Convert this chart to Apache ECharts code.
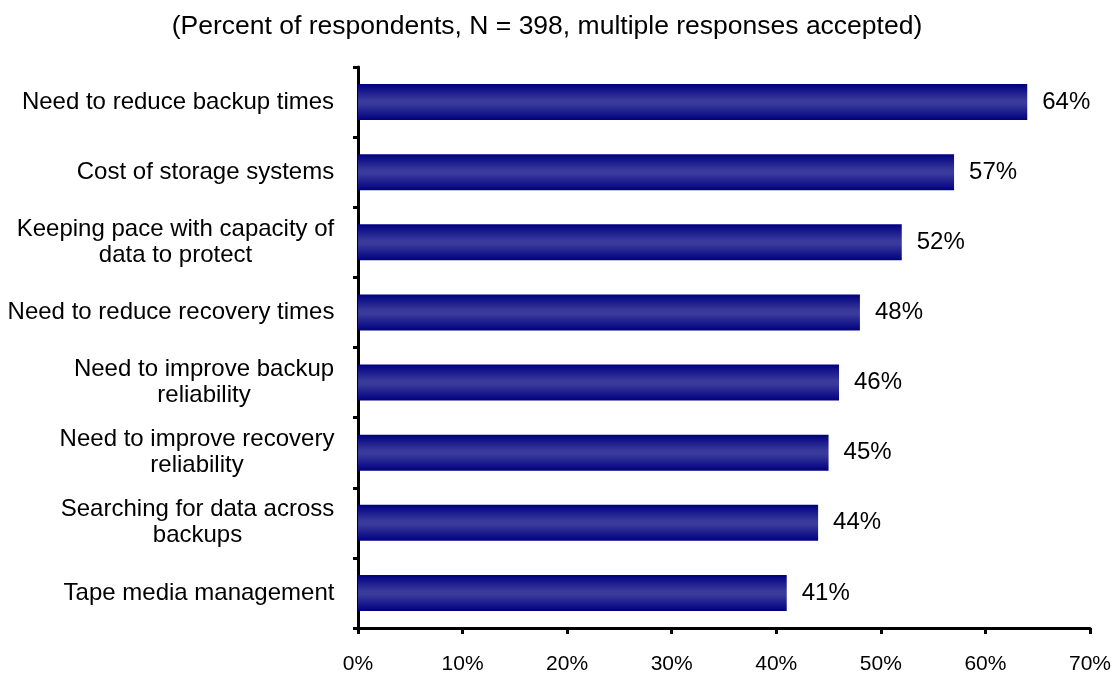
<!DOCTYPE html>
<html>
<head>
<meta charset="utf-8">
<script src="https://cdn.jsdelivr.net/npm/echarts@6/dist/echarts.min.js"></script>
<style>html,body{margin:0;padding:0;background:#fff}#c{width:1114px;height:675px}</style>
</head>
<body>
<div id="c"></div>
<script>
var titleText = "(Percent of respondents, N = 398, multiple responses accepted)";
var categories = [
  "Need to reduce backup times",
  "Cost of storage systems",
  "Keeping pace with capacity of\ndata to protect",
  "Need to reduce recovery times",
  "Need to improve backup\nreliability",
  "Need to improve recovery\nreliability",
  "Searching for data across\nbackups",
  "Tape media management"
];
var values = [64, 57, 52, 48, 46, 45, 44, 41];
var xTicks = [0, 10, 20, 30, 40, 50, 60, 70];

var FAM = "'Liberation Sans', Arial, sans-serif";
var LSIZE = 24;
var cv = document.createElement('canvas').getContext('2d');
cv.font = LSIZE + "px " + FAM;
var rich = {};
categories.forEach(function (c, i) {
  var lines = c.split('\n');
  var w = 0;
  lines.forEach(function (l) { w = Math.max(w, cv.measureText(l).width); });
  rich['c' + i] = { width: Math.ceil(w) + 1, align: 'center', fontSize: LSIZE, lineHeight: 26,
    fontFamily: FAM, color: '#000' };
});

var chart = echarts.init(document.getElementById('c'));
chart.setOption({
  animation: false,
  title: {
    text: titleText, left: 542, textAlign: 'center', top: 8,
    textStyle: { fontSize: 26.5, fontWeight: 'normal', color: '#000', fontFamily: FAM }
  },
  grid: { left: 358, right: 24, top: 67, bottom: 47, containLabel: false },
  xAxis: {
    type: 'value', min: 0, max: 70, interval: 10,
    axisLine: { show: true, lineStyle: { color: '#000', width: 3 } },
    axisTick: { show: true, length: 6, lineStyle: { color: '#000', width: 3 } },
    splitLine: { show: false },
    axisLabel: { formatter: function (v) { return xTicks.indexOf(v) >= 0 ? v + '%' : ''; },
      margin: 26, fontSize: 21, color: '#000', fontFamily: FAM }
  },
  yAxis: {
    type: 'category', data: categories, inverse: true,
    axisLine: { show: true, lineStyle: { color: '#000', width: 3 } },
    axisTick: { show: true, length: 5, lineStyle: { color: '#000', width: 3 } },
    axisLabel: {
      margin: 23, color: '#000',
      formatter: function (v, i) {
        return v.split('\n').map(function (l) { return '{c' + i + '|' + l + '}'; }).join('\n');
      },
      rich: rich
    }
  },
  series: [{
    type: 'bar', data: values, barWidth: 36,
    itemStyle: {
      color: new echarts.graphic.LinearGradient(0, 0, 0, 1, [
        { offset: 0, color: '#000080' },
        { offset: 0.45, color: '#3a3a9c' },
        { offset: 0.55, color: '#3a3a9c' },
        { offset: 1, color: '#000080' }
      ])
    },
    label: { show: true, position: 'right', distance: 15, formatter: '{c}%',
      fontSize: 24, color: '#000', fontFamily: FAM }
  }]
});
</script>
</body>
</html>
